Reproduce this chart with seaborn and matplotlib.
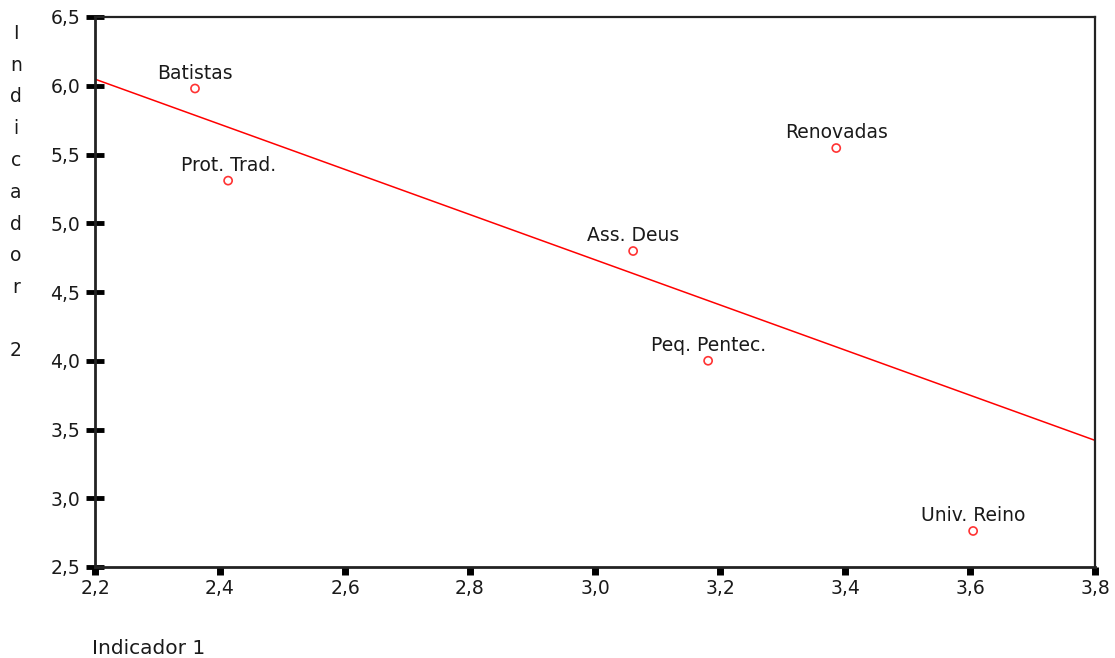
import matplotlib
matplotlib.use("Agg")
import matplotlib.pyplot as plt
import seaborn as sns
import pandas as pd
from matplotlib.ticker import FuncFormatter, FixedLocator

groups = ["Batistas", "Prot. Trad.", "Renovadas", "Ass. Deus", "Peq. Pentec.", "Univ. Reino"]
indicador1 = [2.36, 2.413, 3.386, 3.061, 3.181, 3.605]
indicador2 = [5.98, 5.31, 5.547, 4.798, 4.00, 2.762]
xticks = [2.2, 2.4, 2.6, 2.8, 3.0, 3.2, 3.4, 3.6, 3.8]
yticks = [2.5, 3.0, 3.5, 4.0, 4.5, 5.0, 5.5, 6.0, 6.5]

df = pd.DataFrame({"x": indicador1, "y": indicador2, "g": groups})

sns.set_theme(style="white")
plt.rcParams["font.family"] = ["DejaVu Sans"]

FS = 13.5
TXT = "#1a1a1a"

fig = plt.figure(figsize=(11.15, 6.58), dpi=100)
ax = fig.add_axes([95/1115, 1 - 567/658, 1000/1115, 550/658])
ax.set_xlim(2.2, 3.8)
ax.set_ylim(2.5, 6.5)

sns.regplot(data=df, x="x", y="y", ax=ax, ci=None, truncate=False,
            scatter_kws=dict(marker="o", s=34, facecolors="none", edgecolors="#ff0000", linewidths=1.2),
            line_kws=dict(color="#ff0000", lw=1.1))
ax.set_xlim(2.2, 3.8)
ax.set_ylim(2.5, 6.5)

for xv, yv, g in zip(indicador1, indicador2, groups):
    ax.annotate(g, (xv, yv), xytext=(0, 7), textcoords="offset points",
                ha="center", va="baseline", fontsize=FS, color=TXT)

comma = FuncFormatter(lambda v, p: f"{v:.1f}".replace(".", ","))
ax.xaxis.set_major_locator(FixedLocator(xticks))
ax.yaxis.set_major_locator(FixedLocator(yticks))
ax.xaxis.set_major_formatter(comma)
ax.yaxis.set_major_formatter(comma)
ax.tick_params(axis="y", direction="inout", length=13, width=3.5, color="black",
               labelsize=FS, pad=4, left=True, labelcolor=TXT)
ax.tick_params(axis="x", direction="out", length=6, width=5, color="black",
               labelsize=FS, pad=3, bottom=True, labelcolor=TXT)

for s in ["left", "bottom"]:
    ax.spines[s].set_linewidth(2)
    ax.spines[s].set_color("#222222")
for s in ["top", "right"]:
    ax.spines[s].set_linewidth(1.6)
    ax.spines[s].set_color("#222222")

ax.set_xlabel("")
ax.set_ylabel("")
fig.text(92/1115, 1 - 648/658, "Indicador 1", ha="left", va="center", fontsize=14.5, color=TXT)
ylab = "I\nn\nd\ni\nc\na\nd\no\nr\n\n2"
fig.text(16/1115, 1 - 24/658, ylab, ha="center", va="top", fontsize=FS,
         linespacing=1.85, color=TXT)

fig.savefig("out.png", dpi=100)
